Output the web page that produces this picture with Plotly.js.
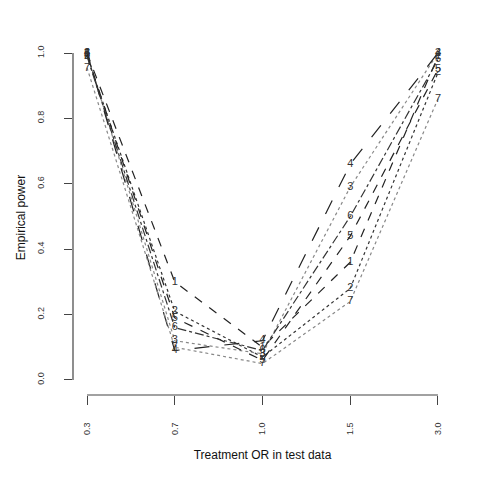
<!DOCTYPE html>
<html>
<head>
<meta charset="utf-8">
<script src="https://cdn.plot.ly/plotly-3.0.1.min.js"></script>
<style>html,body{margin:0;padding:0;background:#fff;}#plot{width:480px;height:480px;}</style>
</head>
<body>
<div id="plot"></div>
<script>
var categories = ["0.3", "0.7", "1.0", "1.5", "3.0"];
var seriesNames = ["1", "2", "3", "4", "5", "6", "7"];
var s1 = [1.00, 0.30, 0.10, 0.36, 0.99];
var s2 = [0.99, 0.21, 0.07, 0.28, 0.94];
var s3 = [1.00, 0.12, 0.08, 0.59, 1.00];
var s4 = [1.00, 0.09, 0.12, 0.66, 1.00];
var s5 = [0.995, 0.19, 0.06, 0.44, 0.95];
var s6 = [0.99, 0.16, 0.09, 0.50, 0.98];
var s7 = [0.955, 0.10, 0.05, 0.24, 0.86];
var yTicks = [0, 0.2, 0.4, 0.6, 0.8, 1.0];
var yTickText = ["0.0", "0.2", "0.4", "0.6", "0.8", "1.0"];

var series = [s1, s2, s3, s4, s5, s6, s7];
var dashes = ["dash", "dot", "dot", "longdash", "dash", "dashdot", "dot"];
var colors = ["#222222", "#333333", "#888888", "#222222", "#222222", "#333333", "#888888"];
var xpos = categories.map(function (c, i) { return i + 1; });

var traces = series.map(function (vals, k) {
  return {
    x: xpos, y: vals, type: "scatter", mode: "lines+text",
    text: vals.map(function () { return seriesNames[k]; }),
    textposition: "middle center",
    textfont: {family: "Liberation Sans, Arial, sans-serif", size: 11,
               color: vals.map(function () { return "#333333"; })},
    line: {color: colors[k], width: 1.2, dash: dashes[k]},
    marker: {color: colors[k]},
    hoverinfo: "none", showlegend: false
  };
});

var font = "Liberation Sans, Arial, sans-serif";
var layout = {
  width: 480, height: 480,
  margin: {l: 73, r: 28, t: 40, b: 85},
  paper_bgcolor: "#fff", plot_bgcolor: "#fff",
  colorway: ["#333333"],
  showlegend: false,
  xaxis: {
    range: [0.84, 5.16], tickmode: "array", tickvals: xpos, ticktext: categories,
    tickangle: -90, ticks: "outside", ticklen: 9, tickcolor: "#444", tickwidth: 1,
    ticklabelstandoff: 14,
    showgrid: false, zeroline: false, showline: false,
    tickfont: {family: font, size: 9, color: "#333"},
    title: {text: "Treatment OR in test data", font: {family: font, size: 12, color: "#111"}, standoff: 16}
  },
  yaxis: {
    range: [-0.046, 1.04], tickmode: "array", tickvals: yTicks, ticktext: yTickText,
    tickangle: -90, ticks: "outside", ticklen: 8, tickcolor: "#444", tickwidth: 1,
    ticklabelstandoff: 16,
    showgrid: false, zeroline: false, showline: false,
    tickfont: {family: font, size: 9, color: "#333"},
    title: {text: "Empirical power", font: {family: font, size: 12, color: "#111"}, standoff: 8}
  },
  shapes: [
    {type: "line", xref: "x", yref: "paper", x0: 1, x1: 5, y0: 0, y1: 0, line: {color: "#444", width: 1.2}},
    {type: "line", xref: "paper", yref: "y", x0: 0, x1: 0, y0: 0, y1: 1, line: {color: "#444", width: 1.2}}
  ]
};

Plotly.newPlot("plot", traces, layout, {staticPlot: true, displayModeBar: false});
</script>
</body>
</html>
